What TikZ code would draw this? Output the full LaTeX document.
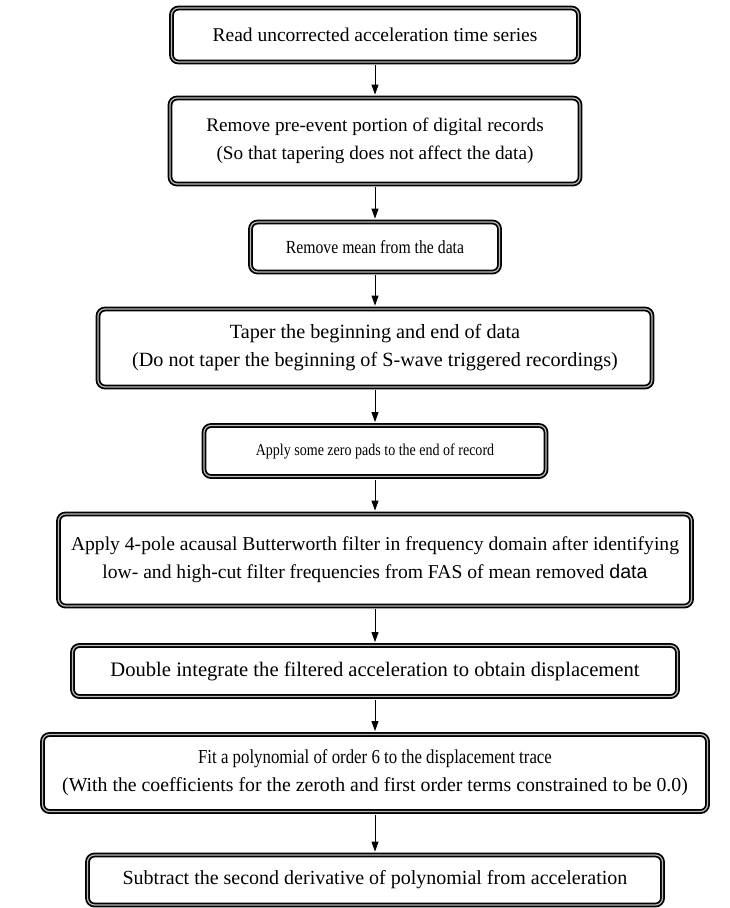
\documentclass[tikz,border=0pt]{standalone}
\usepackage{fontspec}
\setmainfont{Liberation Serif}
\newfontfamily\condfont[FakeStretch=0.85]{Liberation Serif}
\newfontfamily\datafont{Liberation Sans}
\usetikzlibrary{arrows.meta}

\tikzset{
  procbox/.style={draw=black, line width=1.8pt, double=gray!55, double distance=1.2pt,
    rounded corners=7pt, fill=white, align=center, inner sep=0pt,
    font=\fontsize{#1}{28}\selectfont},
  procbox/.default=19.5,
  flow/.style={-{Triangle[length=10pt,width=7pt]}, line width=0.9pt,
    shorten <=2.5pt, shorten >=2.5pt},
}

\begin{document}
\begin{tikzpicture}[x=1pt,y=-1pt]
\useasboundingbox (0,0) rectangle (730,908);

% processing steps
\node[procbox, minimum width=407pt, minimum height=54pt] (read) at (375,35)
  {Read uncorrected acceleration time series};
\node[procbox=19.2, minimum width=410pt, minimum height=86pt] (preevent) at (375,141)
  {Remove pre-event portion of digital records\\(So that tapering does not affect the data)};
\node[procbox=18.5, minimum width=249pt, minimum height=50pt] (mean) at (375,247)
  {\condfont Remove mean from the data};
\node[procbox=20.2, minimum width=554pt, minimum height=78pt] (taper) at (375,348)
  {Taper the beginning and end of data\\(Do not taper the beginning of S-wave triggered recordings)};
\node[procbox=16.5, minimum width=342pt, minimum height=51pt] (pads) at (375,451)
  {\condfont Apply some zero pads to the end of record};
\node[procbox=19.6, minimum width=633pt, minimum height=92pt] (filter) at (375,560)
  {Apply 4-pole acausal Butterworth filter in frequency domain after identifying\\low- and high-cut filter frequencies from FAS of mean removed {\datafont data}};
\node[procbox=20.6, minimum width=605pt, minimum height=51pt] (integ) at (375,671)
  {Double integrate the filtered acceleration to obtain displacement};
\node[procbox=19.8, minimum width=665pt, minimum height=77pt] (poly) at (375,773)
  {{\condfont Fit a polynomial of order 6 to the displacement trace}\\(With the coefficients for the zeroth and first order terms constrained to be 0.0)};
\node[procbox=20, minimum width=575pt, minimum height=50pt] (subtract) at (375,880)
  {Subtract the second derivative of polynomial from acceleration};

% connectors
\draw[flow] (read) -- (preevent);
\draw[flow] (preevent) -- (mean);
\draw[flow] (mean) -- (taper);
\draw[flow] (taper) -- (pads);
\draw[flow] (pads) -- (filter);
\draw[flow] (filter) -- (integ);
\draw[flow] (integ) -- (poly);
\draw[flow] (poly) -- (subtract);

\end{tikzpicture}
\end{document}
